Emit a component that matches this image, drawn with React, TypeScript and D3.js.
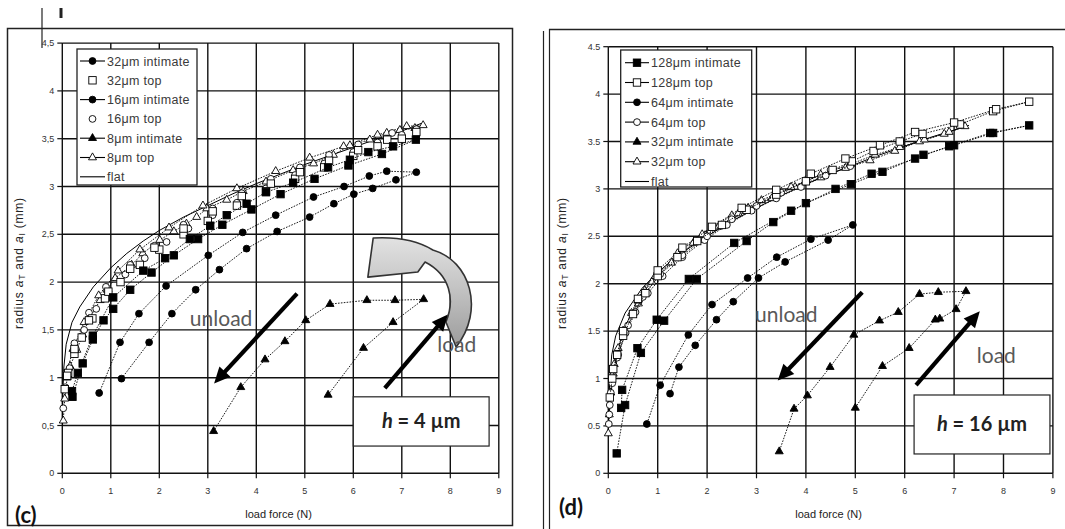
import React from "react";
import * as d3 from "d3";

type Pt = [number, number];
type Shape = "square" | "circle" | "triangle" | "none";

const xTickValues = [0, 1, 2, 3, 4, 5, 6, 7, 8, 9];
const xTickLabels = ["0", "1", "2", "3", "4", "5", "6", "7", "8", "9"];
const yTickValues = [0, 0.5, 1, 1.5, 2, 2.5, 3, 3.5, 4, 4.5];
const yTickLabelsC = ["0", "0,5", "1", "1,5", "2", "2,5", "3", "3,5", "4", "4,5"];
const yTickLabelsD = ["0", "0.5", "1", "1.5", "2", "2.5", "3", "3.5", "4", "4.5"];

// ---------- panel (c), h = 4 µm ----------
const c_flat: Pt[] = [[0.005,0.5],[0.01,0.8],[0.03,1.1],[0.08,1.35],[0.2,1.58],[0.36,1.74],[0.64,1.95],[1.0,2.15],[1.33,2.3],[1.67,2.43],[2.0,2.54],[2.5,2.68],[3.0,2.8],[3.5,2.92],[4.0,3.03],[4.5,3.13],[5.0,3.23],[5.5,3.32],[6.0,3.41],[6.5,3.5],[7.0,3.58],[7.4,3.66]];
const c_int32: Pt[] = [[0.21,0.8],[0.42,1.15],[0.63,1.4],[0.85,1.6],[1.05,1.72],[1.4,1.92],[1.84,2.1],[2.3,2.28],[2.8,2.45],[3.3,2.6],[3.9,2.76],[4.5,2.92],[5.2,3.08],[5.9,3.22],[6.59,3.34],[7.29,3.49],[6.82,3.42],[6.31,3.36],[5.93,3.28],[5.48,3.2],[4.76,3.04],[4.2,2.94],[3.8,2.82],[3.39,2.7],[3.05,2.59],[2.63,2.45],[2.12,2.25],[1.67,2.12],[1.05,1.84],[0.63,1.44],[0.32,1.05],[0.2,0.86]];
const c_top32: Pt[] = [[0.05,0.88],[0.12,1.05],[0.25,1.25],[0.4,1.42],[0.62,1.62],[0.88,1.83],[1.2,2.0],[1.6,2.18],[2.0,2.34],[2.5,2.5],[3.0,2.64],[3.6,2.8],[4.2,2.95],[4.8,3.08],[5.4,3.2],[6.0,3.32],[6.5,3.42],[7.0,3.5],[7.3,3.57],[6.7,3.49],[6.1,3.38],[5.5,3.27],[4.9,3.15],[4.3,3.03],[3.7,2.9],[3.1,2.74],[2.5,2.56],[1.9,2.36],[1.4,2.14],[0.95,1.9],[0.55,1.6],[0.25,1.3],[0.1,1.02]];
const c_int16: Pt[] = [[1.22,0.99],[1.79,1.37],[2.26,1.67],[2.75,1.92],[3.24,2.13],[3.8,2.35],[4.43,2.53],[5.1,2.68],[5.6,2.82],[6.01,2.92],[6.4,2.98],[6.88,3.07],[7.3,3.15],[6.69,3.16],[6.33,3.11],[5.81,3.0],[5.18,2.89],[4.4,2.7],[3.72,2.52],[3.01,2.28],[2.14,1.96],[1.58,1.67],[1.19,1.37],[0.76,0.84]];
const c_top16: Pt[] = [[0.02,0.68],[0.06,0.9],[0.15,1.1],[0.28,1.3],[0.45,1.5],[0.7,1.72],[0.95,1.9],[1.3,2.08],[1.7,2.25],[2.15,2.42],[2.6,2.56],[3.1,2.7],[3.6,2.83],[4.2,2.98],[4.8,3.12],[5.4,3.24],[6.0,3.36],[6.5,3.46],[7.0,3.54],[7.3,3.6],[6.8,3.56],[6.1,3.44],[5.5,3.33],[4.9,3.2],[4.3,3.08],[3.7,2.93],[3.1,2.77],[2.5,2.6],[1.9,2.38],[1.4,2.18],[0.9,1.95],[0.55,1.68],[0.25,1.36],[0.08,1.05]];
const c_int8: Pt[] = [[5.48,0.82],[6.21,1.31],[6.82,1.58],[7.45,1.82],[6.86,1.81],[6.28,1.81],[5.52,1.77],[5.02,1.6],[4.59,1.38],[4.18,1.19],[3.68,0.9],[3.12,0.44]];
const c_top8: Pt[] = [[0.02,0.55],[0.05,0.78],[0.1,1.0],[0.16,1.12],[0.3,1.29],[0.42,1.45],[0.56,1.62],[0.78,1.81],[0.92,1.92],[1.09,2.04],[1.43,2.18],[1.66,2.3],[2.01,2.44],[2.3,2.53],[2.56,2.61],[2.77,2.68],[2.98,2.77],[3.39,2.86],[3.73,2.95],[4.2,3.05],[4.76,3.17],[5.18,3.24],[5.59,3.33],[5.93,3.43],[6.34,3.49],[6.69,3.56],[6.96,3.59],[7.27,3.61],[7.44,3.64],[7.1,3.63],[6.5,3.54],[5.8,3.42],[5.1,3.3],[4.4,3.16],[3.6,2.98],[2.9,2.8],[2.2,2.57],[1.6,2.34],[1.15,2.12],[0.75,1.86],[0.45,1.58],[0.22,1.3],[0.08,1.02]];

// ---------- panel (d), h = 16 µm ----------
const d_flat: Pt[] = [[0.0,0.4],[0.01,0.7],[0.03,1.0],[0.07,1.25],[0.15,1.45],[0.34,1.69],[0.68,1.95],[1.0,2.12],[1.5,2.33],[2.0,2.5],[2.5,2.66],[3.0,2.8],[3.5,2.93],[4.0,3.05],[4.5,3.16],[5.0,3.26],[5.5,3.36],[6.0,3.45],[6.5,3.54],[7.0,3.62],[7.3,3.67]];
const d_int128: Pt[] = [[0.17,0.21],[0.34,0.72],[0.66,1.27],[1.13,1.61],[1.79,2.05],[2.8,2.45],[3.34,2.65],[4.0,2.85],[4.91,3.05],[5.55,3.18],[6.38,3.36],[7.0,3.46],[7.79,3.59],[8.52,3.67],[7.73,3.59],[6.9,3.45],[6.21,3.32],[5.33,3.16],[4.6,3.0],[3.7,2.77],[2.55,2.43],[1.63,2.05],[0.98,1.62],[0.59,1.32],[0.28,0.88],[0.26,0.69]];
const d_top128: Pt[] = [[0.03,0.8],[0.08,1.0],[0.18,1.25],[0.3,1.45],[0.5,1.68],[0.75,1.9],[1.0,2.08],[1.4,2.28],[1.8,2.45],[2.3,2.62],[2.8,2.78],[3.4,2.94],[4.0,3.08],[4.54,3.2],[4.93,3.29],[5.37,3.4],[5.9,3.5],[6.36,3.58],[7.12,3.68],[7.79,3.82],[8.52,3.92],[7.85,3.84],[7.0,3.7],[6.21,3.6],[5.5,3.46],[4.8,3.32],[4.1,3.16],[3.4,2.99],[2.7,2.8],[2.1,2.6],[1.5,2.38],[1.0,2.14],[0.6,1.84],[0.3,1.5],[0.1,1.1]];
const d_int64: Pt[] = [[1.25,0.84],[1.43,1.12],[1.76,1.35],[2.19,1.62],[2.53,1.81],[3.04,2.06],[3.58,2.23],[4.45,2.46],[4.95,2.62],[4.1,2.47],[3.41,2.28],[2.82,2.06],[2.1,1.78],[1.62,1.46],[1.05,0.93],[0.78,0.52]];
const d_top64: Pt[] = [[0.01,0.52],[0.02,0.62],[0.03,0.72],[0.08,0.95],[0.2,1.25],[0.35,1.48],[0.55,1.7],[0.8,1.9],[1.1,2.08],[1.5,2.28],[1.95,2.46],[2.4,2.62],[2.9,2.77],[3.4,2.9],[3.9,3.02],[4.4,3.14],[4.9,3.24],[4.5,3.2],[4.0,3.08],[3.5,2.96],[3.0,2.82],[2.5,2.68],[2.0,2.5],[1.5,2.3],[1.05,2.1],[0.7,1.86],[0.4,1.56],[0.18,1.22],[0.05,0.85]];
const d_int32: Pt[] = [[5.0,0.69],[5.55,1.13],[6.09,1.32],[6.62,1.62],[6.71,1.63],[7.04,1.73],[7.24,1.92],[6.68,1.91],[6.3,1.89],[5.87,1.7],[5.49,1.61],[4.97,1.46],[4.49,1.12],[4.03,0.82],[3.76,0.68],[3.46,0.23]];
const d_top32: Pt[] = [[0.0,0.42],[0.02,0.62],[0.05,0.85],[0.1,1.05],[0.2,1.32],[0.3,1.5],[0.47,1.69],[0.61,1.79],[0.74,1.93],[0.88,2.02],[1.01,2.11],[1.28,2.22],[1.49,2.32],[1.72,2.43],[1.96,2.51],[2.23,2.6],[2.63,2.74],[2.83,2.8],[3.31,2.9],[3.78,3.02],[4.3,3.12],[4.8,3.22],[5.3,3.3],[5.8,3.4],[6.3,3.5],[6.8,3.58],[7.22,3.66],[6.9,3.6],[6.4,3.52],[5.9,3.44],[5.4,3.36],[4.9,3.26],[4.3,3.15],[3.7,3.02],[3.1,2.88],[2.5,2.72],[1.9,2.52],[1.4,2.32],[0.95,2.08],[0.6,1.82],[0.3,1.5],[0.12,1.15]];

interface Series {
  label: string;
  data: Pt[];
  shape: Shape;
  filled: boolean;
  line: "solid" | "dotted" | "none";
  legendShape: Shape;
  legendLine: boolean;
}

const seriesC: Series[] = [
  { label: "32μm intimate", data: c_int32, shape: "square", filled: true, line: "dotted", legendShape: "circle", legendLine: true },
  { label: "32μm top", data: c_top32, shape: "square", filled: false, line: "none", legendShape: "square", legendLine: false },
  { label: "16μm intimate", data: c_int16, shape: "circle", filled: true, line: "dotted", legendShape: "circle", legendLine: true },
  { label: "16μm top", data: c_top16, shape: "circle", filled: false, line: "none", legendShape: "circle", legendLine: false },
  { label: "8μm intimate", data: c_int8, shape: "triangle", filled: true, line: "dotted", legendShape: "triangle", legendLine: true },
  { label: "8μm top", data: c_top8, shape: "triangle", filled: false, line: "dotted", legendShape: "triangle", legendLine: true },
  { label: "flat", data: c_flat, shape: "none", filled: false, line: "solid", legendShape: "none", legendLine: true },
];

const seriesD: Series[] = [
  { label: "128μm intimate", data: d_int128, shape: "square", filled: true, line: "dotted", legendShape: "square", legendLine: true },
  { label: "128μm top", data: d_top128, shape: "square", filled: false, line: "dotted", legendShape: "square", legendLine: true },
  { label: "64μm intimate", data: d_int64, shape: "circle", filled: true, line: "dotted", legendShape: "circle", legendLine: true },
  { label: "64μm top", data: d_top64, shape: "circle", filled: false, line: "dotted", legendShape: "circle", legendLine: true },
  { label: "32μm intimate", data: d_int32, shape: "triangle", filled: true, line: "dotted", legendShape: "triangle", legendLine: true },
  { label: "32μm top", data: d_top32, shape: "triangle", filled: false, line: "dotted", legendShape: "triangle", legendLine: true },
  { label: "flat", data: d_flat, shape: "none", filled: false, line: "solid", legendShape: "none", legendLine: true },
];

function Marker({ shape, filled, x, y }: { shape: Shape; filled: boolean; x: number; y: number }) {
  const fill = filled ? "#000" : "#fff";
  const stroke = "#000";
  if (shape === "square") {
    const s = 7.4;
    return <rect x={x - s / 2} y={y - s / 2} width={s} height={s} fill={fill} stroke={stroke} strokeWidth={0.9} />;
  }
  if (shape === "circle") {
    return <circle cx={x} cy={y} r={3.4} fill={fill} stroke={stroke} strokeWidth={0.9} />;
  }
  if (shape === "triangle") {
    const s = 8;
    const h = s * 0.866;
    const d = `M${x},${y - (h * 2) / 3}L${x - s / 2},${y + h / 3}L${x + s / 2},${y + h / 3}Z`;
    return <path d={d} fill={fill} stroke={stroke} strokeWidth={0.9} />;
  }
  return null;
}

function Arrow({ x1, y1, x2, y2 }: { x1: number; y1: number; x2: number; y2: number }) {
  const ang = Math.atan2(y2 - y1, x2 - x1);
  const L = 16;
  const W = 7.5;
  const bx = x2 - L * Math.cos(ang);
  const by = y2 - L * Math.sin(ang);
  const nx = -Math.sin(ang);
  const ny = Math.cos(ang);
  const head = `M${x2},${y2}L${bx + W * nx},${by + W * ny}L${bx - W * nx},${by - W * ny}Z`;
  return (
    <g>
      <line x1={x1} y1={y1} x2={bx + 2 * Math.cos(ang)} y2={by + 2 * Math.sin(ang)} stroke="#000" strokeWidth={4.2} />
      <path d={head} fill="#000" />
    </g>
  );
}

interface PanelProps {
  left: number;
  right: number;
  top: number;
  bottom: number;
  series: Series[];
  yLabels: string[];
  legend: { x: number; y: number; w: number; h: number; row0: number; rowH: number; lineX0: number; lineX1: number; textX: number };
  annot: {
    unloadText: Pt; loadText: Pt;
    unloadArrow: [Pt, Pt]; loadArrow: [Pt, Pt];
    box: [number, number, number, number]; boxText: string;
  };
  curved?: boolean;
  gradId: string;
}

function Panel(p: PanelProps) {
  const xs = d3.scaleLinear().domain([0, 9]).range([p.left, p.right]);
  const ys = d3.scaleLinear().domain([0, 4.5]).range([p.bottom, p.top]);
  const line = d3.line<Pt>().x((d) => xs(d[0])).y((d) => ys(d[1]));
  const lg = p.legend;
  const a = p.annot;
  const [bx0, bx1, byT, byB] = a.box;

  let curvedPath = "";
  if (p.curved) {
    const P = (f: number, r: number) => `${xs(f)},${ys(r)}`;
    curvedPath =
      `M${P(6.41, 2.461)}` +
      `Q${P(7.17, 2.482)} ${P(7.64, 2.336)}` +
      `C${P(8.41, 2.225)} ${P(8.72, 1.708)} ${P(8.12, 1.321)}` +
      `L${P(7.91, 1.583)}` +
      `C${P(8.1, 1.813)} ${P(8.0, 2.075)} ${P(7.48, 2.21)}` +
      `L${P(7.33, 2.105)}` +
      `L${P(6.3, 2.052)}Z`;
  }

  return (
    <g>
      {xTickValues.map((v) => (
        <line key={"gx" + v} x1={xs(v)} x2={xs(v)} y1={p.top} y2={p.bottom} stroke="#111" strokeWidth={1.4} />
      ))}
      {yTickValues.map((v) => (
        <line key={"gy" + v} x1={p.left} x2={p.right} y1={ys(v)} y2={ys(v)} stroke="#111" strokeWidth={1.4} />
      ))}
      {yTickValues.map((v) => (
        <line key={"ty" + v} x1={p.left - 5} x2={p.left} y1={ys(v)} y2={ys(v)} stroke="#111" strokeWidth={1.2} />
      ))}
      {xTickValues.map((v) => (
        <line key={"tx" + v} x1={xs(v)} x2={xs(v)} y1={p.bottom} y2={p.bottom + 5} stroke="#111" strokeWidth={1.2} />
      ))}
      {yTickValues.map((v, i) => (
        <text key={"ly" + v} x={p.left - 8} y={ys(v) + 3} textAnchor="end" fontSize={9} fill="#333" fontFamily="Liberation Sans, Arial, sans-serif">
          {p.yLabels[i]}
        </text>
      ))}
      {xTickValues.map((v, i) => (
        <text key={"lx" + v} x={xs(v)} y={p.bottom + 21} textAnchor="middle" fontSize={9} fill="#333" fontFamily="Liberation Sans, Arial, sans-serif">
          {xTickLabels[i]}
        </text>
      ))}

      {p.curved && (
        <path d={curvedPath} fill={`url(#${p.gradId})`} stroke="#333" strokeWidth={1.6} strokeLinejoin="round" />
      )}

      {p.series.slice().reverse().map((s, si) => (
        <g key={"s" + si}>
          {s.line !== "none" && (
            <path
              d={line(s.data) || ""}
              fill="none"
              stroke="#000"
              strokeWidth={s.line === "solid" ? 1 : 0.9}
              strokeDasharray={s.line === "dotted" ? "1.6 1.3" : undefined}
            />
          )}
          {s.shape !== "none" &&
            s.data.map((d, i) => <Marker key={i} shape={s.shape} filled={s.filled} x={xs(d[0])} y={ys(d[1])} />)}
        </g>
      ))}

      <Arrow x1={xs(a.unloadArrow[0][0])} y1={ys(a.unloadArrow[0][1])} x2={xs(a.unloadArrow[1][0])} y2={ys(a.unloadArrow[1][1])} />
      <Arrow x1={xs(a.loadArrow[0][0])} y1={ys(a.loadArrow[0][1])} x2={xs(a.loadArrow[1][0])} y2={ys(a.loadArrow[1][1])} />
      <text x={xs(a.unloadText[0])} y={ys(a.unloadText[1])} fontSize={21} fill="#595959" fontFamily="Lato, 'Open Sans', sans-serif">
        unload
      </text>
      <text x={xs(a.loadText[0])} y={ys(a.loadText[1])} fontSize={21} fill="#595959" fontFamily="Lato, 'Open Sans', sans-serif">
        load
      </text>
      <rect x={xs(bx0)} y={ys(byT)} width={xs(bx1) - xs(bx0)} height={ys(byB) - ys(byT)} fill="#fff" stroke="#222" strokeWidth={1.2} />
      <text
        x={(xs(bx0) + xs(bx1)) / 2}
        y={(ys(byT) + ys(byB)) / 2 + 7}
        textAnchor="middle"
        fontSize={20}
        fontWeight="bold"
        fill="#222"
        fontFamily="Lato, 'Open Sans', sans-serif"
      >
        <tspan fontStyle="italic">h</tspan>
        {" = " + a.boxText}
      </text>

      <rect x={lg.x} y={lg.y} width={lg.w} height={lg.h} fill="#fff" stroke="#222" strokeWidth={1.3} />
      {p.series.map((s, i) => {
        const cy = lg.row0 + i * lg.rowH;
        const mx = (lg.lineX0 + lg.lineX1) / 2;
        return (
          <g key={"lg" + i}>
            {s.legendLine && <line x1={lg.lineX0} x2={lg.lineX1} y1={cy} y2={cy} stroke="#000" strokeWidth={1.1} />}
            {s.legendShape !== "none" && <Marker shape={s.legendShape} filled={s.filled} x={mx} y={cy} />}
            <text x={lg.textX} y={cy + 4.5} fontSize={12.5} fill="#3a3a3a" letterSpacing={0.3} fontFamily="Liberation Sans, Arial, sans-serif">
              {s.label}
            </text>
          </g>
        );
      })}

      <text x={(p.left + p.right) / 2 - 2} y={518} textAnchor="middle" fontSize={11} fill="#222" fontFamily="Liberation Sans, Arial, sans-serif">
        load force (N)
      </text>
    </g>
  );
}

function YTitle({ x, y }: { x: number; y: number }) {
  return (
    <text transform={`translate(${x},${y}) rotate(-90)`} textAnchor="middle" fontSize={12} fill="#222" letterSpacing={0.8} fontFamily="Liberation Sans, Arial, sans-serif">
      radius <tspan fontStyle="italic">a</tspan>
      <tspan fontSize={8.5} dy={2}>T</tspan>
      <tspan dy={-2}> and </tspan>
      <tspan fontStyle="italic">a</tspan>
      <tspan fontSize={8.5} dy={2}>I</tspan>
      <tspan dy={-2}> (mm)</tspan>
    </text>
  );
}

export default function App() {
  return (
    <svg width={1065} height={529} style={{ position: "absolute", left: 0, top: 0, background: "#fff" }}>
      <defs>
        <linearGradient id="gradC" x1="0" y1="0" x2="0" y2="1">
          <stop offset="0%" stopColor="#e2e2e2" />
          <stop offset="45%" stopColor="#c4c4c4" />
          <stop offset="100%" stopColor="#9c9c9c" />
        </linearGradient>
      </defs>
      <rect x={0} y={0} width={1065} height={529} fill="#fff" />

      <rect x={7.5} y={28.5} width={505} height={497} fill="none" stroke="#222" strokeWidth={1.5} />
      <line x1={42} x2={42} y1={8} y2={48} stroke="#222" strokeWidth={1.2} />
      <line x1={61} x2={61} y1={8} y2={18} stroke="#222" strokeWidth={3} />

      <line x1={543.5} x2={543.5} y1={31} y2={529} stroke="#222" strokeWidth={1.2} />
      <line x1={549.5} x2={549.5} y1={29} y2={529} stroke="#222" strokeWidth={1.2} />
      <line x1={549} x2={1065} y1={29.5} y2={29.5} stroke="#222" strokeWidth={1.3} />

      <Panel
        left={62.3}
        right={498.8}
        top={43.1}
        bottom={473.3}
        series={seriesC}
        yLabels={yTickLabelsC}
        legend={{ x: 77, y: 49, w: 120, h: 136, row0: 61, rowH: 19.3, lineX0: 80, lineX1: 105, textX: 107 }}
        annot={{
          unloadText: [2.63, 1.54],
          loadText: [7.73, 1.27],
          unloadArrow: [[4.84, 1.88], [3.13, 0.94]],
          loadArrow: [[6.65, 0.89], [7.95, 1.66]],
          box: [6.0, 8.8, 0.8, 0.285],
          boxText: "4 µm",
        }}
        curved
        gradId="gradC"
      />
      <Panel
        left={608.3}
        right={1052.9}
        top={46.7}
        bottom={473.3}
        series={seriesD}
        yLabels={yTickLabelsD}
        legend={{ x: 620.7, y: 50, w: 131, h: 137, row0: 62.7, rowH: 19.8, lineX0: 625, lineX1: 649, textX: 651 }}
        annot={{
          unloadText: [2.97, 1.6],
          loadText: [7.46, 1.16],
          unloadArrow: [[5.14, 1.91], [3.43, 0.98]],
          loadArrow: [[6.23, 0.93], [7.52, 1.71]],
          box: [6.19, 8.94, 0.826, 0.204],
          boxText: "16 µm",
        }}
        gradId="gradD"
      />

      <YTitle x={23} y={263} />
      <YTitle x={566} y={263} />

      <text x={15} y={523} fontSize={22} fontWeight="bold" fill="#111" fontFamily="Lato, 'Open Sans', sans-serif">(c)</text>
      <text x={559} y={515} fontSize={22} fontWeight="bold" fill="#111" fontFamily="Lato, 'Open Sans', sans-serif">(d)</text>
    </svg>
  );
}
